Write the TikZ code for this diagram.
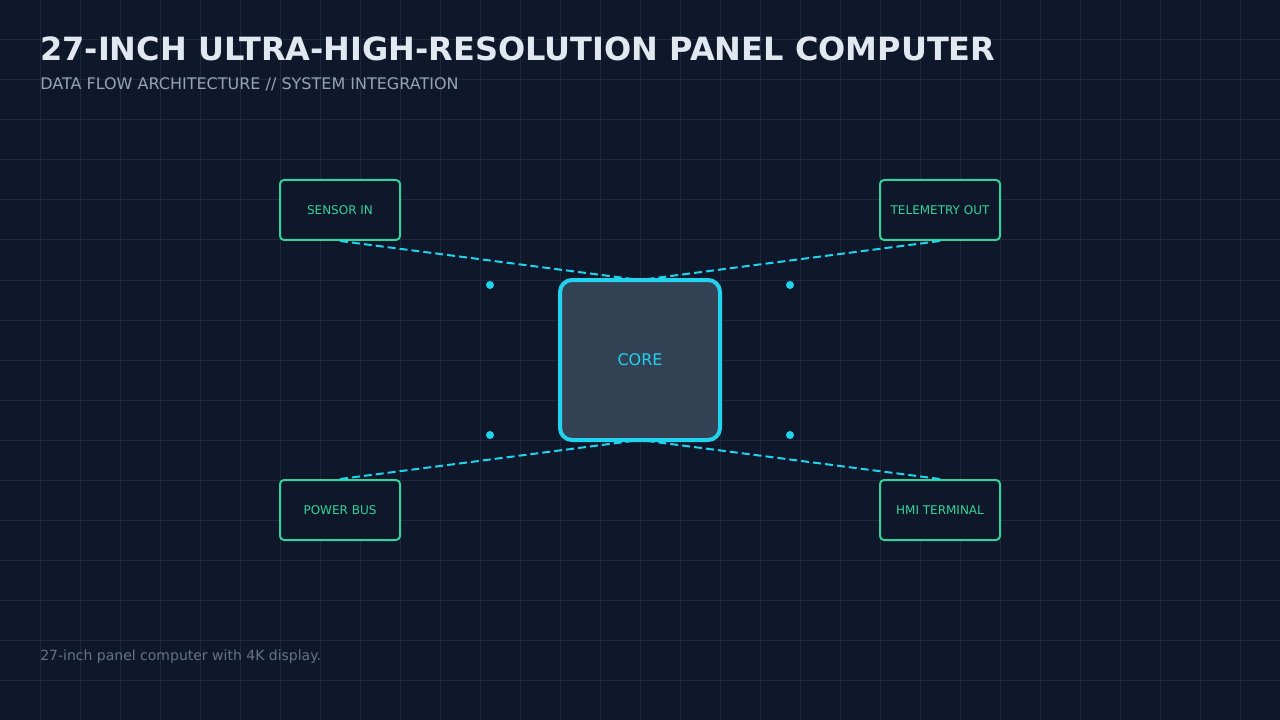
\documentclass[tikz,border=0pt]{standalone}
\usepackage{fontspec}
\setmainfont{DejaVu Sans}
\usetikzlibrary{calc}

\definecolor{bgnavy}{HTML}{0F172A}
\definecolor{gridline}{HTML}{1E293B}
\definecolor{corefill}{HTML}{334155}
\definecolor{cyanline}{HTML}{22D3EE}
\definecolor{greenline}{HTML}{34D399}
\definecolor{titletext}{HTML}{E2E8F0}
\definecolor{subtext}{HTML}{94A3B8}
\definecolor{foottext}{HTML}{64748B}

\begin{document}
\begin{tikzpicture}[
  x=0.75pt,
  y=-0.75pt,
  line join=round,
  ioblock/.style={draw=greenline, line width=1.5pt, fill=bgnavy,
    rounded corners=3pt, minimum width=90pt, minimum height=45pt,
    inner sep=0pt, text=greenline, font=\fontsize{9}{11}\selectfont},
  coreblock/.style={draw=cyanline, line width=3pt, fill=corefill,
    rounded corners=9pt, minimum size=120pt, inner sep=0pt,
    text=cyanline, font=\fontsize{12}{14}\selectfont},
  flowline/.style={cyanline, line width=1.5pt, dash pattern=on 6pt off 3pt}
]

% ---------- background ----------
\fill[bgnavy] (0,0) rectangle (1280,720);
\useasboundingbox (0,0) rectangle (1280,720);
\foreach \gx in {40,80,...,1240}{
  \draw[gridline, line width=0.75pt] (\gx,0) -- (\gx,720);
}
\foreach \gy in {40,80,...,680}{
  \draw[gridline, line width=0.75pt] (0,\gy) -- (1280,\gy);
}

% ---------- headings ----------
\node[anchor=base west, inner sep=0pt, text=titletext,
  font=\fontsize{24}{28}\selectfont\bfseries] (title) at (40,61)
  {27-INCH ULTRA-HIGH-RESOLUTION PANEL COMPUTER};
\node[anchor=base west, inner sep=0pt, text=subtext,
  font=\fontsize{12}{14}\selectfont] (subtitle) at (40,90)
  {DATA FLOW ARCHITECTURE // SYSTEM INTEGRATION};
\node[anchor=base west, inner sep=0pt, text=foottext,
  font=\fontsize{10.5}{12}\selectfont] (caption) at (40,660)
  {27-inch panel computer with 4K display.};

% ---------- io blocks ----------
\node[ioblock] (sensor)    at (340,210) {SENSOR IN};
\node[ioblock] (telemetry) at (940,210) {TELEMETRY OUT};
\node[ioblock] (power)     at (340,510) {POWER BUS};
\node[ioblock] (hmi)       at (940,510) {HMI TERMINAL};

% ---------- flow lines ----------
\draw[flowline] (sensor.south)    -- (640,280) coordinate (coreN);
\draw[flowline] (telemetry.south) -- (coreN);
\draw[flowline] (power.north)     -- (640,440) coordinate (coreS);
\draw[flowline] (hmi.north)       -- (coreS);

% ---------- core ----------
\node[coreblock] (core) at (640,360) {CORE};

% ---------- markers ----------
\foreach \mx/\my in {490/285, 790/285, 490/435, 790/435}{
  \fill[cyanline] (\mx,\my) circle (3pt);
}

\end{tikzpicture}
\end{document}
